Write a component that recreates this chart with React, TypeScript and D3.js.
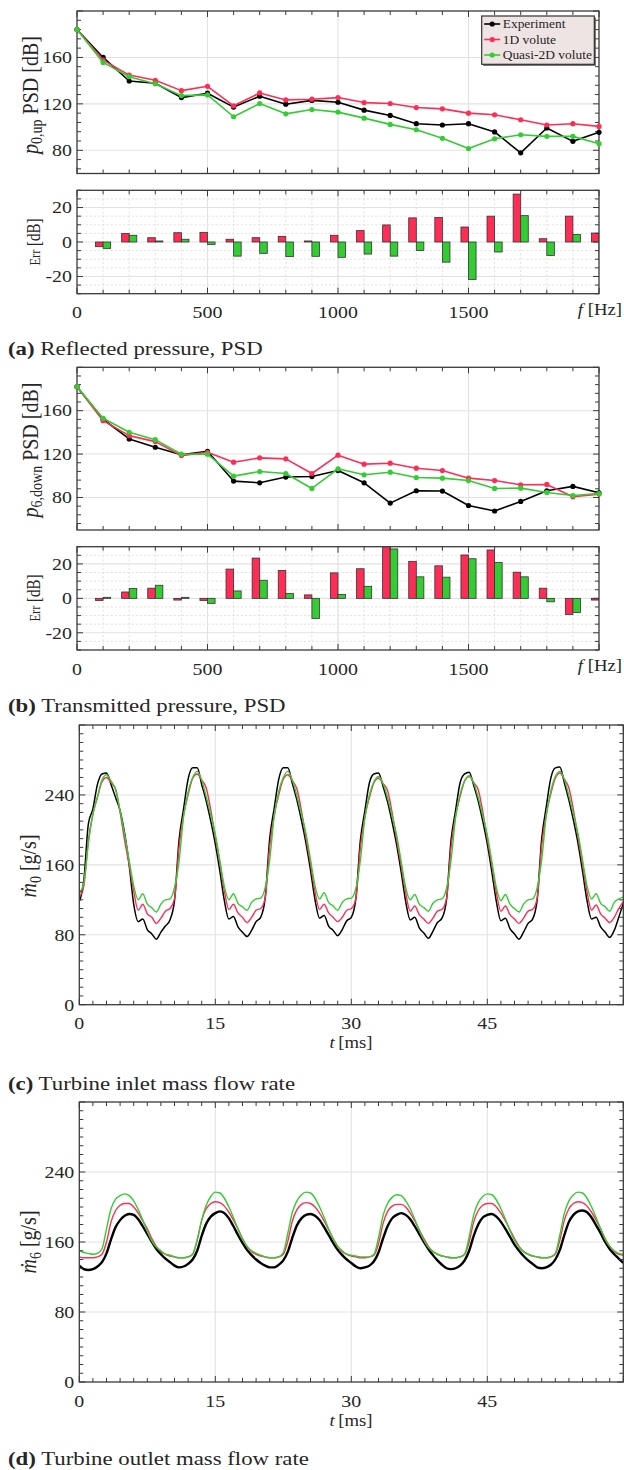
import React from 'react';
import * as d3 from 'd3';

// ---------------- DATA ----------------
const freqHz = [0, 100, 200, 300, 400, 500, 600, 700, 800, 900, 1000, 1100, 1200, 1300, 1400, 1500, 1600, 1700, 1800, 1900, 2000];
const errFreqHz = [100, 200, 300, 400, 500, 600, 700, 800, 900, 1000, 1100, 1200, 1300, 1400, 1500, 1600, 1700, 1800, 1900, 2000];

const psdUpExp = [184, 160, 139.7, 137.7, 125.4, 129.2, 117.2, 126.6, 119.7, 123, 121.4, 114.6, 110, 102.9, 101.8, 102.9, 95.8, 77.8, 99.2, 87.7, 95.5];
const psdUp1D = [184, 157.7, 144.8, 140.3, 131.4, 135.1, 118.3, 129.4, 123.4, 124, 125.4, 121.1, 120.3, 116.8, 115.7, 112, 110.6, 106.3, 101.8, 102.9, 100.6];
const psdUpQ2D = [184, 155.7, 143.4, 137.4, 127.1, 127.7, 108.9, 120.3, 111.4, 115.1, 112.9, 107.7, 102.3, 97.7, 90.3, 81.5, 89.9, 93.4, 92, 92, 85.7];
const errUp1D = [-2.7, 5.0, 2.5, 5.4, 5.6, 1.6, 2.5, 3.3, 0.6, 3.9, 6.6, 9.9, 14.0, 14.2, 8.7, 15.0, 27.8, 1.9, 15.0, 5.2];
const errUpQ2D = [-3.7, 3.9, 0.6, 1.6, -1.4, -8.2, -6.6, -8.5, -8.3, -8.9, -7.0, -8.2, -4.9, -11.7, -21.7, -5.8, 15.3, -7.8, 4.3, -9.8];

const psdDownExp = [182.1, 152.1, 134, 126.3, 119.3, 122.6, 95.1, 93.5, 98.8, 99.3, 104.8, 93.5, 74.8, 86.2, 85.9, 72.6, 67.5, 76.3, 86.2, 90.2, 84.3];
const psdDown1D = [182.1, 150.8, 137, 131.5, 118.6, 121.7, 112.5, 116.5, 115.6, 102.1, 119, 110.7, 111.6, 107, 104.8, 97.8, 95.6, 91.7, 92, 80.6, 83.1];
const psdDownQ2D = [182.1, 153, 140.1, 133.3, 119.9, 119.9, 99.7, 103.9, 102.1, 88.3, 106.4, 100.9, 103.3, 98.4, 97.8, 95.6, 88.3, 88.6, 84.6, 81.8, 83.6];
const errDown1D = [-1.2, 3.7, 5.9, -1.0, -1.2, 17.0, 23.4, 16.2, 2.0, 14.8, 17.2, 36.8, 21.5, 18.9, 25.2, 28.1, 15.2, 5.9, -9.4, -1.0];
const errDownQ2D = [0.6, 5.7, 7.6, 0.6, -2.9, 4.3, 10.5, 2.9, -11.7, 2.3, 7.0, 28.7, 12.5, 12.3, 23.0, 20.9, 12.5, -2.0, -8.2, -0.7];

// time samples every 0.5 ms from 0 to 60 ms
const timeMs = d3.range(0, 60.25, 0.5);

const mdot0Exp = [
  118, 142, 207, 224, 252, 264, 265, 252, 237, 222, 196, 160, 115, 95, 98, 86, 81, 75, 83, 90,
  97, 119, 188, 224, 258, 271, 271, 252, 233, 210, 184, 153, 119, 98, 101, 89, 83, 78, 85, 95,
  100, 122, 190, 225, 258, 271, 271, 253, 234, 211, 185, 154, 120, 99, 102, 90, 85, 79, 86, 96,
  100, 121, 188, 222, 254, 264, 265, 250, 232, 209, 183, 152, 118, 97, 100, 88, 82, 76, 84, 94,
  99, 120, 188, 222, 254, 264, 266, 251, 233, 210, 184, 152, 118, 96, 99, 87, 81, 75, 83, 93,
  98, 120, 190, 226, 259, 271, 272, 254, 234, 211, 185, 153, 119, 98, 100, 89, 83, 77, 85, 100,
  116,
];
const mdot0_1D = [
  123, 136, 188, 218, 237, 255, 260, 254, 247, 220, 188, 160, 130, 108, 115, 104, 100, 93, 99, 107,
  110, 121, 180, 217, 240, 259, 264, 257, 248, 223, 192, 162, 130, 109, 115, 105, 100, 94, 100, 108,
  110, 122, 181, 217, 240, 258, 263, 256, 247, 222, 191, 161, 129, 109, 115, 105, 100, 95, 100, 108,
  110, 121, 180, 215, 237, 254, 259, 253, 245, 220, 189, 159, 128, 107, 113, 103, 98, 93, 99, 107,
  109, 121, 180, 216, 238, 256, 261, 254, 246, 221, 190, 160, 128, 107, 113, 103, 98, 93, 99, 107,
  109, 122, 182, 218, 241, 259, 265, 258, 248, 223, 192, 161, 129, 108, 114, 104, 99, 94, 100, 110,
  118,
];
const mdot0_Q2D = [
  127, 140, 184, 218, 238, 257, 263, 256, 246, 222, 195, 165, 136, 120, 127, 115, 111, 106, 115, 120,
  121, 134, 164, 215, 243, 260, 267, 257, 238, 217, 195, 165, 135, 120, 127, 116, 112, 108, 117, 121,
  122, 134, 166, 216, 244, 260, 267, 257, 239, 218, 196, 166, 136, 121, 128, 117, 113, 108, 117, 121,
  122, 133, 165, 214, 240, 255, 261, 253, 237, 216, 194, 164, 134, 120, 126, 115, 111, 107, 116, 120,
  121, 133, 165, 214, 241, 256, 262, 254, 237, 216, 194, 164, 134, 119, 126, 115, 110, 106, 115, 120,
  121, 134, 166, 216, 244, 261, 267, 258, 239, 218, 196, 166, 136, 121, 127, 116, 112, 107, 117, 121,
  123,
];

const mdot6Exp = [
  133, 129, 128, 129, 132, 137, 147, 163, 177, 185, 190, 192, 191, 186, 178, 169, 160, 152, 146, 141,
  137, 133, 131, 132, 135, 140, 150, 167, 181, 189, 193, 195, 193, 187, 178, 168, 159, 151, 145, 140,
  136, 133, 131, 131, 134, 139, 149, 165, 179, 187, 191, 192, 190, 185, 177, 168, 159, 151, 145, 140,
  136, 132, 130, 131, 133, 138, 148, 164, 178, 187, 191, 193, 191, 186, 178, 169, 160, 152, 145, 139,
  134, 130, 129, 130, 133, 139, 150, 167, 180, 188, 191, 192, 189, 183, 175, 166, 157, 150, 144, 139,
  135, 131, 130, 131, 134, 140, 151, 168, 183, 191, 195, 196, 194, 188, 179, 170, 160, 152, 146, 141,
  136,
];
const mdot6_1D = [
  143, 142, 142, 142, 143, 146, 160, 183, 196, 202, 204, 204, 200, 193, 184, 175, 164, 155, 149, 146,
  144, 143, 142, 142, 143, 146, 162, 185, 198, 204, 206, 205, 201, 194, 185, 175, 164, 155, 149, 146,
  144, 143, 142, 142, 143, 146, 161, 184, 197, 203, 205, 204, 200, 193, 184, 174, 164, 155, 149, 146,
  144, 143, 142, 142, 143, 145, 158, 181, 195, 201, 203, 203, 200, 193, 184, 174, 164, 155, 149, 146,
  144, 143, 142, 142, 143, 146, 160, 183, 196, 202, 204, 204, 200, 193, 184, 174, 164, 155, 149, 146,
  144, 143, 142, 142, 143, 146, 162, 185, 198, 204, 206, 205, 201, 194, 185, 175, 164, 155, 149, 146,
  145,
];
const mdot6_Q2D = [
  150, 148, 147, 146, 147, 152, 175, 198, 209, 213, 215, 213, 207, 197, 185, 172, 161, 154, 150, 146,
  145, 143, 142, 142, 143, 146, 162, 185, 202, 212, 217, 216, 210, 200, 188, 175, 163, 155, 150, 147,
  145, 143, 142, 142, 143, 148, 170, 194, 207, 214, 217, 216, 210, 200, 188, 175, 163, 155, 150, 146,
  145, 144, 143, 143, 143, 146, 165, 190, 204, 211, 214, 213, 207, 198, 186, 173, 162, 154, 149, 146,
  144, 143, 142, 142, 143, 146, 166, 191, 205, 212, 215, 214, 208, 198, 186, 173, 162, 154, 149, 146,
  144, 143, 142, 142, 143, 147, 168, 193, 207, 214, 217, 216, 210, 200, 188, 175, 163, 155, 150, 147,
  146,
];

const legendLabels = ['Experiment', '1D volute', 'Quasi-2D volute'];
const psdYTicks = [80, 120, 160];
const errYTicks = [-20, 0, 20];
const freqXTicks = [0, 500, 1000, 1500];
const timeXTicks = [0, 15, 30, 45];
const flowYTicks = [0, 80, 160, 240];

// ---------------- STYLE ----------------
const C_EXP = '#000000';
const C_1D = '#ff2d55';
const C_Q2D = '#33cc33';
const SERIES_COLORS = [C_EXP, C_1D, C_Q2D];
const FONT = "'Liberation Serif', 'Times New Roman', serif";
const SX = 1.17;
const TXT = '#262626';
const AX = '#3a3a3a';
const GRID = '#e2e2e2';
const BAR_W = 29;

const xsF = d3.scaleLinear().domain([0, 2000]).range([77, 599]);
const ysApsd = d3.scaleLinear().domain([60, 200]).range([173.5, 11]);
const ysAerr = d3.scaleLinear().domain([-30, 30]).range([293.7, 190.3]);
const ysBpsd = d3.scaleLinear().domain([50, 200]).range([530, 367.3]);
const ysBerr = d3.scaleLinear().domain([-30, 30]).range([650, 546.7]);
const xsT = d3.scaleLinear().domain([0, 60]).range([79.3, 623.3]);
const ysC = d3.scaleLinear().domain([0, 320]).range([1004.7, 725]);
const ysD = d3.scaleLinear().domain([0, 320]).range([1382, 1102]);

const stepRange = (lo: number, hi: number, anchor: number, step: number) => {
  const start = anchor - Math.floor((anchor - lo) / step + 1e-9) * step;
  return d3.range(start, hi + 1e-6, step).map((v) => Math.round(v * 1000) / 1000);
};
const notIn = (arr: number[], step: number) => arr.filter((v) => Math.abs(v / step - Math.round(v / step)) > 1e-6);

function HText({ x, y, anchor = 'start', size, children, weight }: any) {
  return (
    <text transform={`translate(${x},${y}) scale(${SX},1)`} textAnchor={anchor} fontSize={size}
      fontFamily={FONT} fill={TXT} fontWeight={weight}>{children}</text>
  );
}
function VText({ x, y, size, children }: any) {
  return (
    <text transform={`translate(${x},${y}) scale(1.2,1) rotate(-90)`} textAnchor="middle" fontSize={size}
      fontFamily={FONT} fill={TXT}>{children}</text>
  );
}

function Axes(p: any) {
  const [X0, X1] = p.xs.range();
  const [Y1, Y0] = p.ys.range();
  const MAJ = 6, MIN = 4;
  const tx = (v: number, len: number, k: string) => (
    <g key={k}>
      <line x1={p.xs(v)} x2={p.xs(v)} y1={Y1} y2={Y1 - len} />
      <line x1={p.xs(v)} x2={p.xs(v)} y1={Y0} y2={Y0 + len} />
    </g>
  );
  const ty = (v: number, len: number, k: string) => (
    <g key={k}>
      <line y1={p.ys(v)} y2={p.ys(v)} x1={X0} x2={X0 + len} />
      <line y1={p.ys(v)} y2={p.ys(v)} x1={X1} x2={X1 - len} />
    </g>
  );
  return (
    <g>
      <defs>
        <clipPath id={p.id}><rect x={X0} y={Y0} width={X1 - X0} height={Y1 - Y0} /></clipPath>
      </defs>
      <g stroke="#d6d6d6" strokeWidth={0.7} strokeDasharray="2.2,2">
        {(p.dashX || []).map((v: number) => <line key={'dx' + v} x1={p.xs(v)} x2={p.xs(v)} y1={Y0} y2={Y1} />)}
        {(p.dashY || []).map((v: number) => <line key={'dy' + v} y1={p.ys(v)} y2={p.ys(v)} x1={X0} x2={X1} />)}
      </g>
      <g stroke={GRID} strokeWidth={1.1}>
        {p.gridX.map((v: number) => <line key={'gx' + v} x1={p.xs(v)} x2={p.xs(v)} y1={Y0} y2={Y1} />)}
        {p.gridY.map((v: number) => <line key={'gy' + v} y1={p.ys(v)} y2={p.ys(v)} x1={X0} x2={X1} />)}
      </g>
      <g clipPath={`url(#${p.id})`}>{p.children}</g>
      <g stroke={AX} strokeWidth={1}>
        {p.xMajor.map((v: number) => tx(v, MAJ, 'xM' + v))}
        {p.xMinor.map((v: number) => tx(v, MIN, 'xm' + v))}
        {p.yMajor.map((v: number) => ty(v, MAJ, 'yM' + v))}
        {p.yMinor.map((v: number) => ty(v, MIN, 'ym' + v))}
      </g>
      <rect x={X0} y={Y0} width={X1 - X0} height={Y1 - Y0} fill="none" stroke={AX} strokeWidth={1.3} />
      {p.yLabels.map((v: number) => (
        <HText key={'yl' + v} x={X0 - 5} y={p.ys(v) + 5.8} anchor="end" size={17}>{String(v)}</HText>
      ))}
      {(p.xLabels || []).map((v: number) => (
        <HText key={'xl' + v} x={p.xs(v)} y={Y1 + 24.5} anchor="middle" size={17}>{String(v)}</HText>
      ))}
    </g>
  );
}

function PsdLines({ ys, series }: any) {
  const line = d3.line<number>().x((_, i) => xsF(freqHz[i])).y((d) => ys(d));
  return (
    <g>
      {series.map((s: number[], k: number) => (
        <g key={k}>
          <path d={line(s) || ''} fill="none" stroke={SERIES_COLORS[k]} strokeWidth={1.6} strokeLinejoin="round" />
          {s.map((v, i) => <circle key={i} cx={xsF(freqHz[i])} cy={ys(v)} r={2.6} fill={SERIES_COLORS[k]} />)}
        </g>
      ))}
    </g>
  );
}

function ErrBars({ ys, e1, e2 }: any) {
  const rect = (f0: number, f1: number, v: number, color: string, k: string) => (
    <rect key={k} x={xsF(f0)} width={xsF(f1) - xsF(f0)} y={ys(Math.max(v, 0))}
      height={Math.abs(ys(v) - ys(0))} fill={color} stroke="#333" strokeWidth={0.8} />
  );
  return (
    <g>
      {errFreqHz.map((f, i) => rect(f - BAR_W, f, e1[i], C_1D, 'r' + f))}
      {errFreqHz.map((f, i) => rect(f, f + BAR_W, e2[i], C_Q2D, 'g' + f))}
    </g>
  );
}

function TimeLines({ ys, series, widths }: any) {
  const line = d3.line<number>().x((_, i) => xsT(timeMs[i])).y((d) => ys(d)).curve(d3.curveMonotoneX);
  return (
    <g>
      {series.map((s: number[], k: number) => (
        <path key={k} d={line(s) || ''} fill="none" stroke={SERIES_COLORS[k]} strokeWidth={widths[k]} strokeLinejoin="round" />
      ))}
    </g>
  );
}

function Legend() {
  const x = 481.7, y = 16, w = 112.6, h = 48.3;
  const rows = [24, 39.5, 55];
  return (
    <g>
      <rect x={x + 1.5} y={y + 1.5} width={w} height={h} fill="#555" />
      <rect x={x} y={y} width={w} height={h} fill="#efe4e4" stroke="#333" strokeWidth={1.2} />
      {legendLabels.map((lab, i) => (
        <g key={lab}>
          <line x1={x + 2.5} x2={x + 18.5} y1={rows[i]} y2={rows[i]} stroke={SERIES_COLORS[i]} strokeWidth={1.6} />
          <circle cx={x + 10.5} cy={rows[i]} r={2.6} fill={SERIES_COLORS[i]} />
          <HText x={x + 21} y={rows[i] + 4} size={11.5}>{lab}</HText>
        </g>
      ))}
    </g>
  );
}

const fMinor = notIn(d3.range(0, 2001, 100), 500);
const fDash = d3.range(100, 2000, 100);
const errMinorY = notIn(stepRange(-30, 30, 0, 5), 20);
const errDashY = [-25, -15, -10, -5, 5, 10, 15, 25];
const tMinor = notIn(stepRange(0, 60, 0, 1.5), 15);
const flowMinor = notIn(stepRange(0, 320, 0, 10), 80);

export default function App() {
  const psdMinorA = notIn(stepRange(60, 200, 80, 8), 40);
  const psdMinorB = notIn(stepRange(50, 200, 80, 8), 40);
  return (
    <svg width={624} height={1470} style={{ position: 'absolute', left: 0, top: 0 }} xmlns="http://www.w3.org/2000/svg">
      <rect width={624} height={1470} fill="#fff" />

      {/* ---------- (a) ---------- */}
      <Axes id="cA1" xs={xsF} ys={ysApsd} xMajor={[0, 500, 1000, 1500, 2000]} xMinor={fMinor}
        yMajor={[80, 120, 160, 200]} yMinor={psdMinorA} gridX={[500, 1000, 1500]} gridY={psdYTicks}
        yLabels={psdYTicks} />
      <PsdLines ys={ysApsd} series={[psdUpExp, psdUp1D, psdUpQ2D]} />
      <Legend />
      <VText x={37.5} y={95} size={20}>
        <tspan fontStyle="italic">p</tspan><tspan fontSize={14} dy={4}>0,up</tspan><tspan dy={-4}> PSD [dB]</tspan>
      </VText>

      <Axes id="cA2" xs={xsF} ys={ysAerr} xMajor={[0, 500, 1000, 1500, 2000]} xMinor={fMinor}
        yMajor={errYTicks} yMinor={errMinorY} gridX={[500, 1000, 1500]} gridY={errYTicks}
        dashX={fDash} dashY={errDashY} yLabels={[20, 0, -20]} xLabels={freqXTicks}>
        <ErrBars ys={ysAerr} e1={errUp1D} e2={errUpQ2D} />
      </Axes>
      <VText x={40} y={242} size={15}><tspan fontSize={12.5}>Err</tspan> [dB]</VText>
      <HText x={622} y={315} anchor="end" size={16}><tspan fontStyle="italic">f</tspan><tspan dx={4}>[Hz]</tspan></HText>
      <HText x={8} y={355} size={19.5}><tspan fontWeight="bold">(a)</tspan> Reflected pressure, PSD</HText>

      {/* ---------- (b) ---------- */}
      <Axes id="cB1" xs={xsF} ys={ysBpsd} xMajor={[0, 500, 1000, 1500, 2000]} xMinor={fMinor}
        yMajor={[80, 120, 160, 200]} yMinor={psdMinorB} gridX={[500, 1000, 1500]} gridY={psdYTicks}
        yLabels={psdYTicks} />
      <PsdLines ys={ysBpsd} series={[psdDownExp, psdDown1D, psdDownQ2D]} />
      <VText x={37.5} y={450} size={20}>
        <tspan fontStyle="italic">p</tspan><tspan fontSize={14} dy={4}>6,down</tspan><tspan dy={-4}> PSD [dB]</tspan>
      </VText>

      <Axes id="cB2" xs={xsF} ys={ysBerr} xMajor={[0, 500, 1000, 1500, 2000]} xMinor={fMinor}
        yMajor={errYTicks} yMinor={errMinorY} gridX={[500, 1000, 1500]} gridY={errYTicks}
        dashX={fDash} dashY={errDashY} yLabels={[20, 0, -20]} xLabels={freqXTicks}>
        <ErrBars ys={ysBerr} e1={errDown1D} e2={errDownQ2D} />
      </Axes>
      <VText x={40} y={598} size={15}><tspan fontSize={12.5}>Err</tspan> [dB]</VText>
      <HText x={622} y={671} anchor="end" size={16}><tspan fontStyle="italic">f</tspan><tspan dx={4}>[Hz]</tspan></HText>
      <HText x={8} y={712} size={19.5}><tspan fontWeight="bold">(b)</tspan> Transmitted pressure, PSD</HText>

      {/* ---------- (c) ---------- */}
      <Axes id="cC" xs={xsT} ys={ysC} xMajor={[0, 15, 30, 45, 60]} xMinor={tMinor}
        yMajor={[0, 80, 160, 240, 320]} yMinor={flowMinor} gridX={[15, 30, 45]} gridY={[80, 160, 240]}
        yLabels={flowYTicks} xLabels={timeXTicks}>
        <TimeLines ys={ysC} series={[mdot0Exp, mdot0_1D, mdot0_Q2D]} widths={[1.5, 1.4, 1.4]} />
      </Axes>
      <VText x={36} y={866} size={20}>
        <tspan fontStyle="italic">ṁ</tspan><tspan fontSize={14} dy={4}>0</tspan><tspan dy={-4}> [g/s]</tspan>
      </VText>
      <HText x={351} y={1047.5} anchor="middle" size={16}><tspan fontStyle="italic">t</tspan><tspan dx={3}>[ms]</tspan></HText>
      <HText x={8} y={1089.5} size={19.5}><tspan fontWeight="bold">(c)</tspan> Turbine inlet mass flow rate</HText>

      {/* ---------- (d) ---------- */}
      <Axes id="cD" xs={xsT} ys={ysD} xMajor={[0, 15, 30, 45, 60]} xMinor={tMinor}
        yMajor={[0, 80, 160, 240, 320]} yMinor={flowMinor} gridX={[15, 30, 45]} gridY={[80, 160, 240]}
        yLabels={flowYTicks} xLabels={timeXTicks}>
        <TimeLines ys={ysD} series={[mdot6Exp, mdot6_1D, mdot6_Q2D]} widths={[2.4, 1.4, 1.4]} />
      </Axes>
      <VText x={36} y={1242} size={20}>
        <tspan fontStyle="italic">ṁ</tspan><tspan fontSize={14} dy={4}>6</tspan><tspan dy={-4}> [g/s]</tspan>
      </VText>
      <HText x={351} y={1425.5} anchor="middle" size={16}><tspan fontStyle="italic">t</tspan><tspan dx={3}>[ms]</tspan></HText>
      <HText x={8} y={1465} size={19.5}><tspan fontWeight="bold">(d)</tspan> Turbine outlet mass flow rate</HText>
    </svg>
  );
}
